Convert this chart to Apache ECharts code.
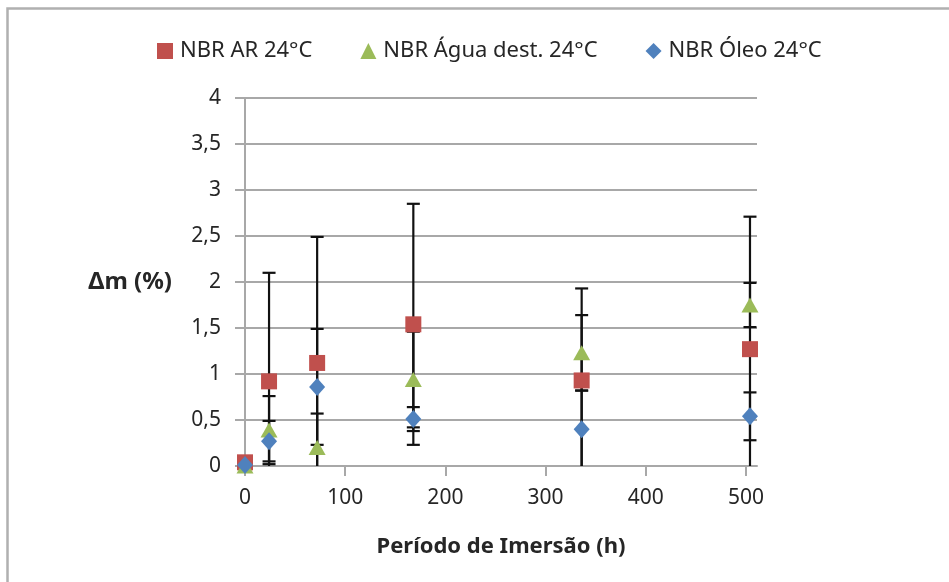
<!DOCTYPE html>
<html>
<head>
<meta charset="utf-8">
<script src="https://cdn.jsdelivr.net/npm/echarts@6/dist/echarts.min.js"></script>
<style>html,body{margin:0;padding:0;background:#fff}#c{width:949px;height:582px}</style>
</head>
<body>
<div id="c"></div>
<script>
const hours = [0, 24, 72, 168, 336, 504];
const seriesNames = ['NBR AR 24°C', 'NBR Água dest. 24°C', 'NBR Óleo 24°C'];
const arValues = [0.04, 0.92, 1.12, 1.54, 0.93, 1.27];
const arErrors = [0, 1.18, 1.37, 1.31, 1.0, 1.44];
const aguaValues = [0.0, 0.39, 0.2, 0.94, 1.23, 1.75];
const aguaErrors = [0, 0.37, 0.37, 0.52, 0.41, 0.24];
const oleoValues = [0.01, 0.27, 0.86, 0.51, 0.4, 0.54];
const oleoErrors = [0, 0.22, 0.63, 0.13, 0.42, 0.26];
const xTicks = [0, 100, 200, 300, 400, 500];

const FONT = 'Noto Sans';
const TXT = '#262626';
const GRID = '#a8a8a8';

function pairs(vals) { return hours.map((h, i) => [h, vals[i]]); }
function errData(vals, errs) { return hours.map((h, i) => [h, vals[i], errs[i]]); }

function errRender(params, api) {
  const x = api.value(0), y = api.value(1), e = api.value(2);
  if (!e) return null;
  let lo = y - e, hi = y + e;
  const loClipped = lo < 0;
  if (loClipped) lo = 0;
  const pHi = api.coord([x, hi]);
  const pLo = api.coord([x, lo]);
  const w = 6.5;
  const style = { stroke: '#111', lineWidth: 2.2 };
  const children = [
    { type: 'line', shape: { x1: pHi[0], y1: pHi[1], x2: pLo[0], y2: pLo[1] }, style },
    { type: 'line', shape: { x1: pHi[0] - w, y1: pHi[1], x2: pHi[0] + w, y2: pHi[1] }, style }
  ];
  if (!loClipped) children.push({ type: 'line', shape: { x1: pLo[0] - w, y1: pLo[1], x2: pLo[0] + w, y2: pLo[1] }, style });
  return { type: 'group', children };
}

const chart = echarts.init(document.getElementById('c'), null, { renderer: 'canvas' });
const colors = ['#c0504d', '#9bbb59', '#4f81bd'];
const symbols = ['rect', 'triangle', 'diamond'];
const sizes = [[16, 16], [17, 15], [16, 18]];
const valSets = [arValues, aguaValues, oleoValues];
const errSets = [arErrors, aguaErrors, oleoErrors];

const series = [];
for (let k = 0; k < 3; k++) {
  series.push({
    type: 'custom', name: seriesNames[k] + ' err', renderItem: errRender,
    data: errData(valSets[k], errSets[k]), z: 2, silent: true,
    encode: { x: 0, y: 1 }
  });
}
for (let k = 0; k < 3; k++) {
  series.push({
    type: 'scatter', name: seriesNames[k], data: pairs(valSets[k]),
    symbol: symbols[k], symbolSize: sizes[k],
    itemStyle: { color: colors[k], opacity: 1 }, z: 5 + k
  });
}

chart.setOption({
  animation: false,
  backgroundColor: '#fff',
  textStyle: { fontFamily: FONT },
  graphic: [{
    type: 'rect', shape: { x: 7.5, y: 8.5, width: 1200, height: 1000 },
    style: { fill: 'none', stroke: '#b0b0b0', lineWidth: 2.5 }, z: 0
  }],
  legend: {
    data: seriesNames.map((n, k) => ({ name: n, icon: symbols[k] })),
    left: 157, top: 40, itemWidth: 16, itemHeight: 16, itemGap: 48, padding: 0,
    textStyle: { fontFamily: FONT, fontSize: 22, color: TXT, padding: [0, 0, 0, 2] }
  },
  grid: { left: 245, right: 192, top: 98, bottom: 116, containLabel: false },
  xAxis: {
    type: 'value', min: 0, max: 511, interval: 100,
    name: 'Período de Imersão (h)', nameLocation: 'middle', nameGap: 70,
    nameTextStyle: { fontFamily: FONT, fontSize: 22, fontWeight: 'bold', color: TXT },
    axisLine: { lineStyle: { color: GRID, width: 2 } },
    axisTick: { show: true, length: 10, lineStyle: { color: GRID, width: 2 }, customValues: xTicks },
    axisLabel: { customValues: xTicks, fontFamily: FONT, fontSize: 21, color: TXT, margin: 22 },
    splitLine: { show: false }
  },
  yAxis: {
    type: 'value', min: 0, max: 4, interval: 0.5,
    name: 'Δm (%)', nameLocation: 'middle', nameRotate: 0, nameGap: 73,
    nameTextStyle: { fontFamily: FONT, fontSize: 24, fontWeight: 'bold', color: TXT, align: 'right' },
    axisLine: { show: true, lineStyle: { color: GRID, width: 2 } },
    axisTick: { show: true, inside: false, length: 10, lineStyle: { color: GRID, width: 2 } },
    axisLabel: { fontFamily: FONT, fontSize: 21, color: TXT, margin: 24,
      formatter: v => String(v).replace('.', ',') },
    splitLine: { show: true, lineStyle: { color: GRID, width: 2 } }
  },
  series
});
</script>
</body>
</html>
